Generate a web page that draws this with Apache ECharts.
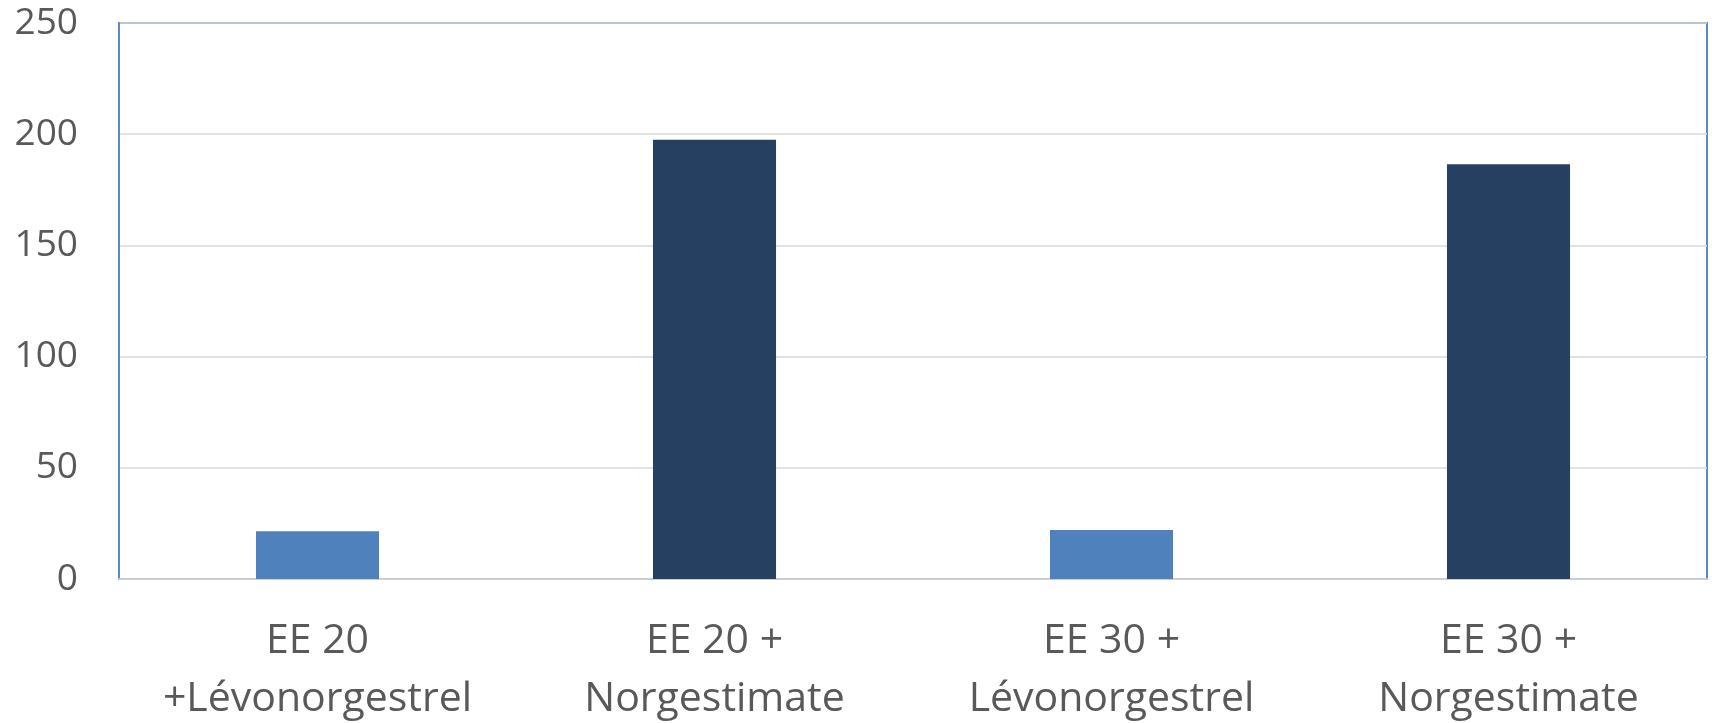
<!DOCTYPE html>
<html>
<head>
<meta charset="utf-8">
<script src="https://cdn.jsdelivr.net/npm/echarts@6/dist/echarts.min.js"></script>
<style>
  html, body { margin: 0; padding: 0; background: #fff; }
  #chart { width: 1712px; height: 723px; }
</style>
</head>
<body>
<div id="chart"></div>
<script>
// Treatment groups along the x axis
const categories = [
  'EE 20\n+Lévonorgestrel',
  'EE 20 +\nNorgestimate',
  'EE 30 +\nLévonorgestrel',
  'EE 30 +\nNorgestimate'
];
// Values per group
const values = [21.5, 197.5, 22, 186.5];
// Bar fill per group (levonorgestrel light, norgestimate dark)
const barColors = ['#4F81BD', '#264061', '#4F81BD', '#264061'];
// Value axis ticks
const yMin = 0, yMax = 250, yStep = 50;

const chart = echarts.init(document.getElementById('chart'), null, { renderer: 'canvas' });
chart.setOption({
  animation: false,
  backgroundColor: '#ffffff',
  grid: {
    left: 119, right: 5, top: 23, bottom: 144,
    outerBoundsMode: 'none',
    containLabel: false,
    show: true,
    borderColor: '#5B8AC5',
    borderWidth: 2,
    backgroundColor: 'transparent'
  },
  xAxis: {
    type: 'category',
    data: categories,
    axisLine: { show: true, lineStyle: { color: '#C8CDD6', width: 2 } },
    axisTick: { show: false },
    axisLabel: {
      color: '#595959',
      fontFamily: 'Open Sans',
      fontSize: 41,
      lineHeight: 58,
      margin: 33,
      interval: 0
    }
  },
  yAxis: {
    type: 'value',
    min: yMin, max: yMax, interval: yStep,
    axisLine: { show: true, lineStyle: { color: '#5B8AC5', width: 2 } },
    axisTick: { show: false },
    splitLine: { lineStyle: { color: '#D9D9D9', width: 1.5 } },
    axisLabel: {
      color: '#595959',
      fontFamily: 'Open Sans',
      fontSize: 37,
      margin: 41
    }
  },
  series: [{
    type: 'bar',
    barWidth: '31%',
    data: values.map((v, i) => ({ value: v, itemStyle: { color: barColors[i] } }))
  }]
});
</script>
</body>
</html>
